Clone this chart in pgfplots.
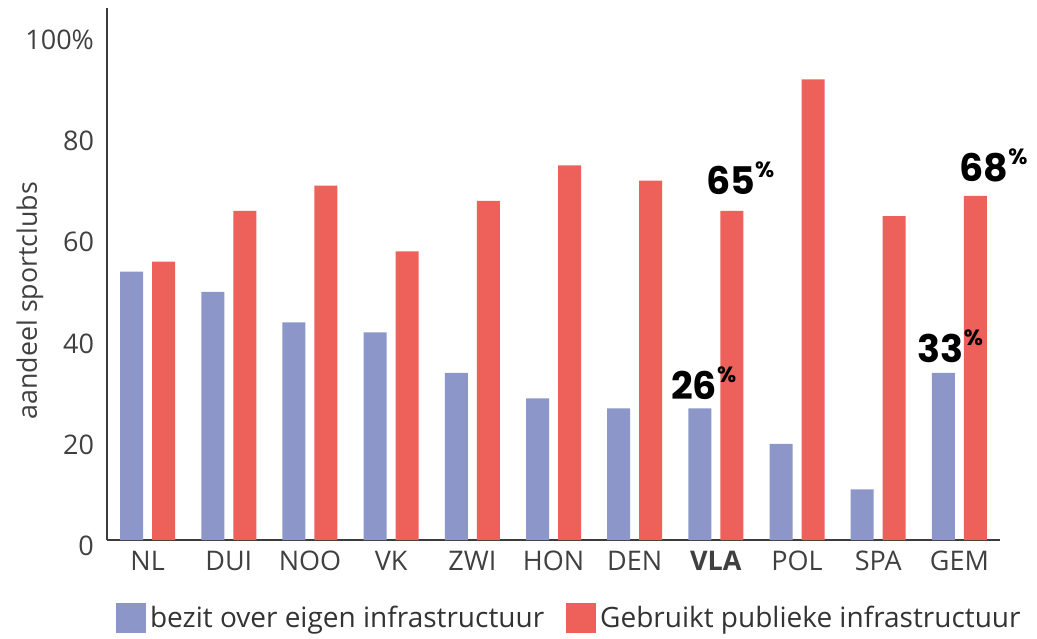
\documentclass[border=0pt]{standalone}
\usepackage{fontspec}
\setmainfont{Open Sans}
\newfontfamily\boldfont{Poppins}[UprightFont=* Bold]
\usepackage{pgfplots}
\pgfplotsset{compat=1.18}
\definecolor{cblue}{RGB}{140,150,200}
\definecolor{cred}{RGB}{238,96,90}
\definecolor{caxis}{RGB}{60,60,60}
\newcommand{\pct}[1]{{\boldfont\fontsize{19}{19}\selectfont #1\raisebox{0.45em}{\fontsize{11}{11}\selectfont\%}}}
\begin{document}
\begin{tikzpicture}
\begin{axis}[
  scale only axis,
  width=446.5pt, height=266pt,
  xmin=-0.5, xmax=10.5,
  ymin=0, ymax=105.1,
  axis lines=left,
  axis line style={-, caxis, line width=1pt},
  major tick length=0pt,
  ytick={0,20,40,60,80,100},
  yticklabels={0,20,40,60,80,100\%},
  xtick={0,1,2,3,4,5,6,7,8,9,10},
  xticklabels={NL,DUI,NOO,VK,ZWI,HON,DEN,\textbf{VLA},POL,SPA,GEM},
  ticklabel style={font=\fontsize{13.5}{13.5}\selectfont, text=black!75},
  yticklabel style={xshift=-3pt, yshift=-3pt},
  xticklabel style={yshift=-2pt},
  /pgf/number format/assume math mode=true,
  ybar, bar width=11.5pt,
  clip=false,
  legend columns=2,
  legend style={draw=none, fill=none, at={(rel axis cs:0.003,-0.147)}, anchor=west,
    font=\fontsize{14}{14}\selectfont, text=black!80,
    /tikz/every even column/.append style={column sep=9pt},
    nodes={inner sep=2pt}},
  legend image code/.code={\fill[#1] (0pt,-7.5pt) rectangle (15pt,7.5pt);},
]
\addplot[fill=cblue, draw=none, bar shift=-8pt] coordinates {
  (0,53) (1,49) (2,43) (3,41) (4,33) (5,28) (6,26) (7,26) (8,19) (9,10) (10,33)};
\addlegendentry{bezit over eigen infrastructuur}
\addplot[fill=cred, draw=none, bar shift=8pt] coordinates {
  (0,55) (1,65) (2,70) (3,57) (4,67) (5,74) (6,71) (7,65) (8,91) (9,64) (10,68)};
\addlegendentry{Gebruikt publieke infrastructuur}
\node[anchor=base] at (axis cs:6.85,27.7) {\pct{26}};
\node[anchor=base] at (axis cs:7.30,68.2) {\pct{65}};
\node[anchor=base] at (axis cs:9.89,35) {\pct{33}};
\node[anchor=base] at (axis cs:10.42,70.75) {\pct{68}};
\node[rotate=90, font=\fontsize{13.4}{13.4}\selectfont, text=black!75] at ([xshift=-38.5pt]rel axis cs:0,0.45) {aandeel sportclubs};
\end{axis}
\pgfresetboundingbox
\path (-53.5pt,-49pt) rectangle (465pt,270pt);
\end{tikzpicture}
\end{document}
